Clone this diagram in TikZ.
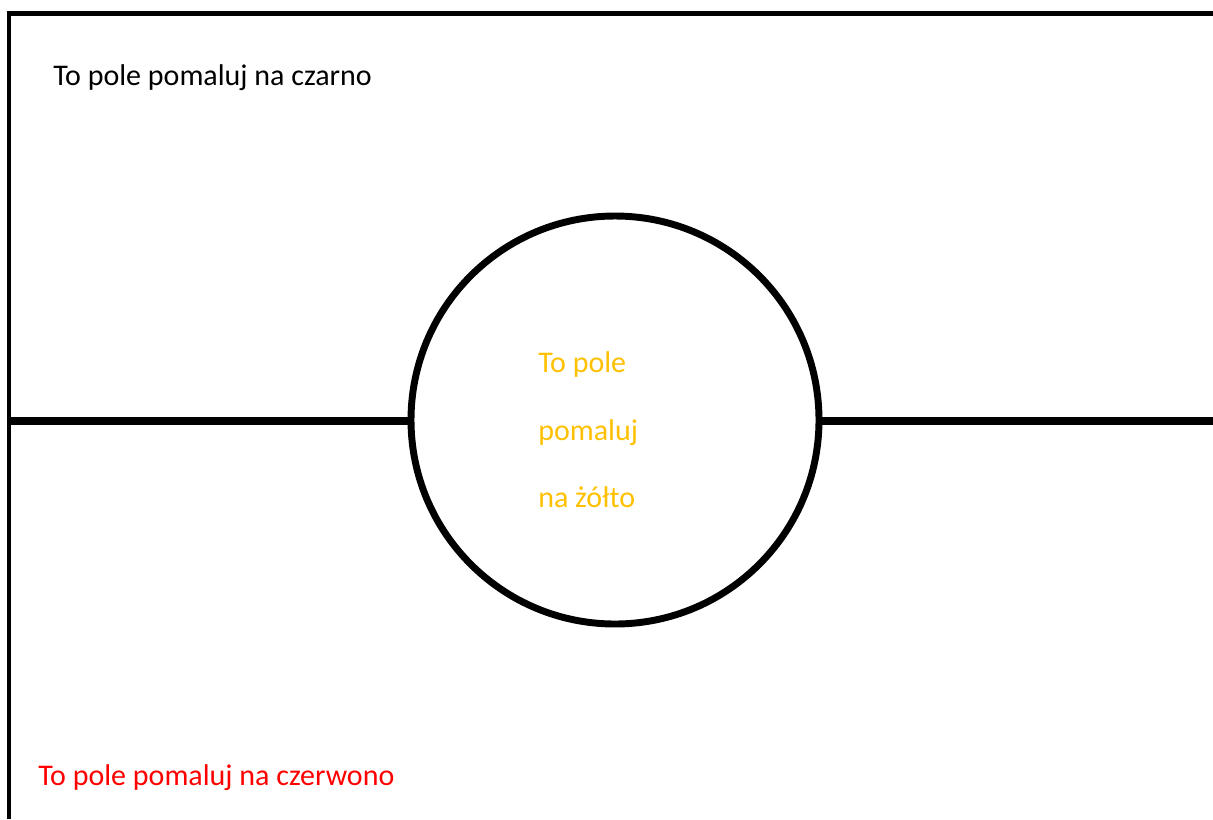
\documentclass[tikz,border=0pt]{standalone}
\usepackage{fontspec}
\setmainfont{Carlito}
\definecolor{gold}{HTML}{FFC000}
\definecolor{plred}{HTML}{FF0000}
\tikzset{
  label text/.style={anchor=base west, inner sep=0pt, font=\fontsize{22.5pt}{27pt}\selectfont},
  frame line/.style={line width=3.2pt, line join=miter},
  axis line/.style={line width=5.6pt},
}

\begin{document}
\begin{tikzpicture}[x=0.75pt, y=-0.75pt]
\useasboundingbox (0,0) rectangle (1213,819);
\draw[frame line] (9,819) -- (9,13.5) -- (1213,13.5);
\node[circle, draw, line width=5.2pt, inner sep=0pt, minimum size=306pt] (ring) at (615,420) {};
\coordinate (leftend) at (9,421);
\coordinate (rightend) at (1213,421);
\draw[axis line] (leftend) -- (ring.west |- leftend);
\draw[axis line] (ring.east |- rightend) -- (rightend);
\node[label text] (black) at (53,85) {To pole pomaluj na czarno};
\node[label text, text=plred] (red) at (38,785) {To pole pomaluj na czerwono};
\node[label text, text=gold] (yellowa) at (538,372) {To pole};
\node[label text, text=gold] (yellowb) at (538,440) {pomaluj};
\node[label text, text=gold] (yellowc) at (538,507) {na żółto};
\end{tikzpicture}
\end{document}
